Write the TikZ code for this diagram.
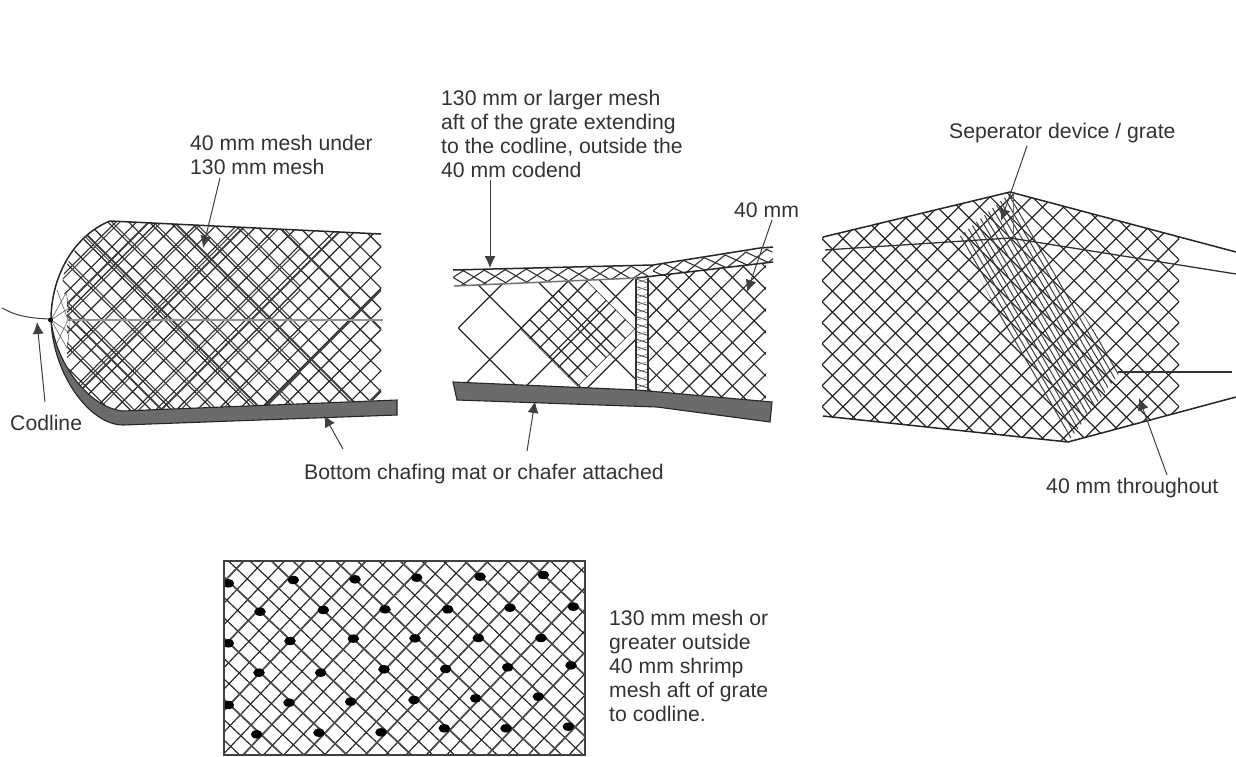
\documentclass[tikz,border=0pt]{standalone}
\usepackage{fontspec}
\setmainfont{Liberation Sans}
\usetikzlibrary{arrows.meta}
\newcommand{\meshnet}[6]{\foreach \k in {-#6,...,#6}{%
  \draw[#1] ({#2+\k*#4-400},{#3-400*#5}) -- ({#2+\k*#4+400},{#3+400*#5});
  \draw[#1] ({#2+\k*#4-400},{#3+400*#5}) -- ({#2+\k*#4+400},{#3-400*#5});}}
\tikzset{
  lab/.style={align=left,inner sep=0pt,anchor=west,text=black!80,font=\fontsize{21.2}{24}\selectfont},
  fine/.style={line width=1.15pt,black!85},
  doubled/.style={line width=1pt,black!75},
  big/.style={line width=1.8pt,black!75},
  edgeline/.style={line width=1.5pt,black!85},
  chafer/.style={fill=black!58,draw=black!85,line width=1.1pt},
  lead/.style={line width=1pt,black!75,-{Latex[length=12pt,width=11pt]}},
  knot/.style={fill=black,draw=none},
}
\begin{document}
\begin{tikzpicture}[x=1pt,y=-1pt]
\useasboundingbox (0,0) rectangle (1236,757);

% ---------- Panel 1
\begin{scope}
\clip (110,221) .. controls (82,232) and (60,265) .. (62,292) -- (67,296) -- (67,365)
      .. controls (80,395) and (100,410) .. (123,411) -- (381,400) -- (381,234) -- cycle;
\meshnet{fine}{381}{246.7}{20.7}{1}{30}
\meshnet{big}{361.5}{309.5}{100}{1}{8}
\begin{scope}
\clip (0,200) rectangle (300,430);
\meshnet{doubled}{385}{246.7}{41.4}{1}{16}
\end{scope}
\end{scope}
\draw[line width=2.6pt,black!42] (68,320) -- (383,320);
\draw[edgeline] (110,221) -- (381,234);
\draw[edgeline] (110,221) .. controls (75,235) and (51,275) .. (51,320);
\draw[line width=0.6pt,black!60] (51,320) -- (66,293) (51,320) -- (69,308) (51,320) -- (69,332) (51,320) -- (67,348)
  (57,290) -- (68,320) -- (56,345) (66,293) .. controls (70,305) and (70,335) .. (67,348);
\draw[chafer] (51,320) .. controls (53,375) and (90,425) .. (123,425) -- (397,415) -- (397,400) -- (123,411)
  .. controls (90,408) and (56,365) .. (51,320) -- cycle;
\draw[line width=1pt,black!75] (2,308) .. controls (15,315) and (25,318) .. (50,319);
\fill[black] (50.5,320) circle (2.4pt);

% ---------- Panel 2: large mesh, small patch, small mesh
\begin{scope}
\clip (458,283) -- (636,279) -- (636,392) -- (458,383) -- cycle;
\meshnet{fine}{458.3}{328}{63}{1}{12}
\end{scope}
\begin{scope}
\clip (520,329) -- (577.6,271.4) -- (635.2,329) -- (577.6,386.6) -- cycle;
\meshnet{fine}{520}{329}{19.2}{1}{30}
\end{scope}
\begin{scope}
\clip (648,277) -- (766,263) -- (766,403) -- (648,392) -- cycle;
\meshnet{fine}{765}{331.7}{21.7}{1}{30}
\end{scope}
% top band
\fill[white] (453,270) -- (653,265) -- (772,248) -- (773,262) -- (637,278) -- (453,286) -- cycle;
\begin{scope}
\clip (453,270) -- (653,265) -- (653,277) -- (637,278) -- (453,286) -- cycle;
\begin{scope}[rotate around={1.5:(453,277.5)}]
\meshnet{line width=1.1pt,black!80}{453}{277.5}{21}{0.62}{30}
\end{scope}
\end{scope}
\begin{scope}
\clip (653,265) -- (772,248) -- (773,262) -- (653,277) -- cycle;
\begin{scope}[rotate around={7.5:(653,271)}]
\meshnet{line width=1.1pt,black!80}{653}{271}{21}{0.62}{30}
\end{scope}
\end{scope}
\draw[edgeline] (453,270) -- (653,265) -- (760,248) -- (773,247);
\draw[line width=1.5pt,black!55] (454,286) -- (637,278);
\draw[edgeline] (637,278) -- (773,262);
% vertical strip
\fill[white] (636,279) rectangle (648,391);
\begin{scope}
\clip (636,279) rectangle (648,391);
\foreach \j in {0,...,15}{
  \draw[line width=0.9pt,black!70] (636,{279+\j*7.5}) -- (648,{283+\j*7.5});
  \draw[line width=0.6pt,black!50] (636,{283+\j*7.5}) -- (648,{279+\j*7.5});
}
\end{scope}
\draw[line width=1.2pt,black!80] (636,279) -- (636,391) (648,278) -- (648,392);
\draw[chafer] (453,382) -- (637,390) -- (772,402) -- (770,422) -- (657,407) -- (457,400) -- cycle;

% ---------- Panel 3
\begin{scope}
\clip (822,237) -- (1010,192) -- (1179,237) -- (1179,412) -- (1068,442) -- (822,416) -- cycle;
\meshnet{line width=1.15pt,black!85}{822}{301.7}{21}{1}{36}
\end{scope}
\begin{scope}
\clip (1010,193) -- (958,238) -- (1068,442) -- (1120,372) -- (1035,238) -- cycle;
\foreach \j in {-16,...,24}{
  \draw[line width=1pt,black!75] ({1000+\j*6},190) -- ({1000+\j*6+150},{190+260});
}
\end{scope}
\draw[edgeline] (823,237) -- (1010,192) -- (1236,252);
\draw[line width=1.3pt,black!80] (825,250) -- (1010,238) -- (1236,274);
\draw[line width=0.9pt,black!60] (1013,193) -- (1013,238);
\draw[edgeline] (823,416) -- (1068,442) -- (1236,397);
\draw[line width=1.1pt,black!80] (1118,372) -- (1232,372);

% ---------- Panel 4
\begin{scope}
\clip (224,561) rectangle (585,755);
\begin{scope}[rotate around={1.5:(353.3,638.7)}]
\meshnet{fine}{353.3}{638.7}{20.9}{1}{36}
\meshnet{line width=1.7pt,black!70}{353.3}{638.7}{62.7}{1}{12}
\end{scope}
\foreach \p/\q in {40/100,235/90,420/88,605/83,795/80,985/75,
  135/185,325/180,510/178,698/178,885/173,1075/170,
  40/280,225/273,415/266,600/265,790/264,978/264,
  132/368,317/368,507/358,692/357,878/352,1068/346,
  40/465,222/458,407/455,597/450,782/445,970/440,
  125/553,312/548,498/547,688/535,873/535,1060/530}{
  \fill[knot] ({215+\p/3},{550+\q/3}) ellipse (5.8pt and 4.2pt);
}
\end{scope}
\draw[line width=1.6pt,black!75] (224,561) rectangle (585,755);

% ---------- Labels
\node[lab] (meshlab) at (190,155) {40 mm mesh under\\130 mm mesh};
\node[lab] (largelab) at (441,134) {130 mm or larger mesh\\aft of the grate extending\\to the codline, outside the\\40 mm codend};
\node[lab] (fortylab) at (734,210) {40 mm};
\node[lab] (seplab) at (949,133) {Seperator device / grate};
\node[lab] (codlab) at (10,423) {Codline};
\node[lab] (chaflab) at (304,474) {Bottom chafing mat or chafer attached};
\node[lab] (thrulab) at (1046,488) {40 mm throughout};
\node[lab] (gratelab) at (609,666) {130 mm mesh or\\greater outside\\40 mm shrimp\\mesh aft of grate\\to codline.};

% ---------- Leader arrows
\coordinate (s1) at (220,178); \coordinate (t1) at (203,248);
\coordinate (s2) at (45,402);  \coordinate (t2) at (37,322);
\coordinate (s3) at (343,449); \coordinate (t3) at (324,415);
\coordinate (s4) at (490,180); \coordinate (t4) at (490,268);
\coordinate (s5) at (772,220); \coordinate (t5) at (747,292);
\coordinate (s6) at (527,451); \coordinate (t6) at (535,401);
\coordinate (s7) at (1027,146);\coordinate (t7) at (1001,221);
\coordinate (s8) at (1167,475);\coordinate (t8) at (1139,398);
\foreach \n in {1,...,8}{ \draw[lead] (s\n) -- (t\n); }
\end{tikzpicture}
\end{document}
